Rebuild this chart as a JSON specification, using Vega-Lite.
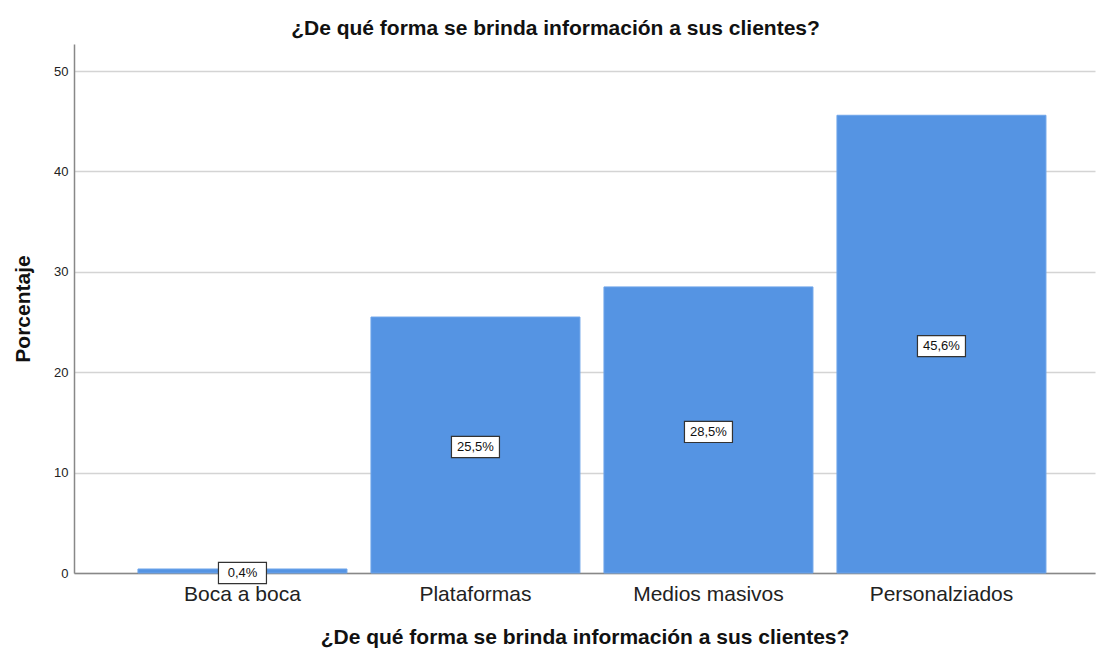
{
  "$schema": "https://vega.github.io/schema/vega-lite/v6.json",
  "autosize": "none",
  "width": 1021,
  "height": 529,
  "padding": {"left": 74, "top": 44, "right": 1, "bottom": 75},
  "background": "white",
  "config": {"view": {"stroke": null}, "font": "Liberation Sans"},
  "title": {
    "text": "¿De qué forma se brinda información a sus clientes?",
    "fontSize": 21, "fontWeight": "bold", "color": "#111111",
    "anchor": "middle", "frame": "group", "dx": -29, "offset": 5
  },
  "data": {
    "values": [
      {"categoria": "Boca a boca", "porcentaje": 0.4, "etiqueta": "0,4%"},
      {"categoria": "Plataformas", "porcentaje": 25.5, "etiqueta": "25,5%"},
      {"categoria": "Medios masivos", "porcentaje": 28.5, "etiqueta": "28,5%"},
      {"categoria": "Personalziados", "porcentaje": 45.6, "etiqueta": "45,6%"}
    ]
  },
  "encoding": {
    "x": {
      "field": "categoria", "type": "nominal", "sort": null,
      "scale": {"paddingInner": 0.103, "paddingOuter": 0.2425, "align": 0.566},
      "axis": {
        "title": "¿De qué forma se brinda información a sus clientes?",
        "titleFontSize": 21, "titleFontWeight": "bold", "titleColor": "#111111", "titlePadding": 22,
        "labelAngle": 0, "labelFontSize": 21, "labelColor": "#222222", "labelPadding": 10,
        "ticks": false, "domainColor": "#888888", "domainWidth": 1.5, "grid": false
      }
    },
    "y": {
      "field": "porcentaje", "type": "quantitative",
      "scale": {"domain": [0, 52.7], "nice": false},
      "axis": {
        "title": "Porcentaje", "titleFontSize": 21, "titleFontWeight": "bold", "titleColor": "#111111", "titlePadding": 20,
        "values": [0, 10, 20, 30, 40, 50], "labelFontSize": 13, "labelColor": "#222222", "labelPadding": 6,
        "ticks": false, "domainColor": "#888888", "domainWidth": 1.5,
        "grid": true, "gridColor": "#d4d4d4", "gridWidth": 1.5
      }
    }
  },
  "layer": [
    {
      "mark": {"type": "bar", "color": "#5594e3", "stroke": "#6fa5ea", "strokeWidth": 1}
    },
    {
      "transform": [{"calculate": "datum.porcentaje / 2", "as": "mitad"}],
      "mark": {
        "type": "point", "shape": "M-1,-0.44H1V0.44H-1Z", "size": 2304, "yOffset": 2,
        "filled": true, "fill": "white", "stroke": "#333333", "strokeWidth": 1.2, "opacity": 1
      },
      "encoding": {"y": {"field": "mitad", "type": "quantitative"}}
    },
    {
      "transform": [{"calculate": "datum.porcentaje / 2", "as": "mitad"}],
      "mark": {"type": "text", "fontSize": 13, "color": "#111111", "baseline": "middle", "align": "center", "dy": 2},
      "encoding": {"y": {"field": "mitad", "type": "quantitative"}, "text": {"field": "etiqueta"}}
    }
  ]
}
